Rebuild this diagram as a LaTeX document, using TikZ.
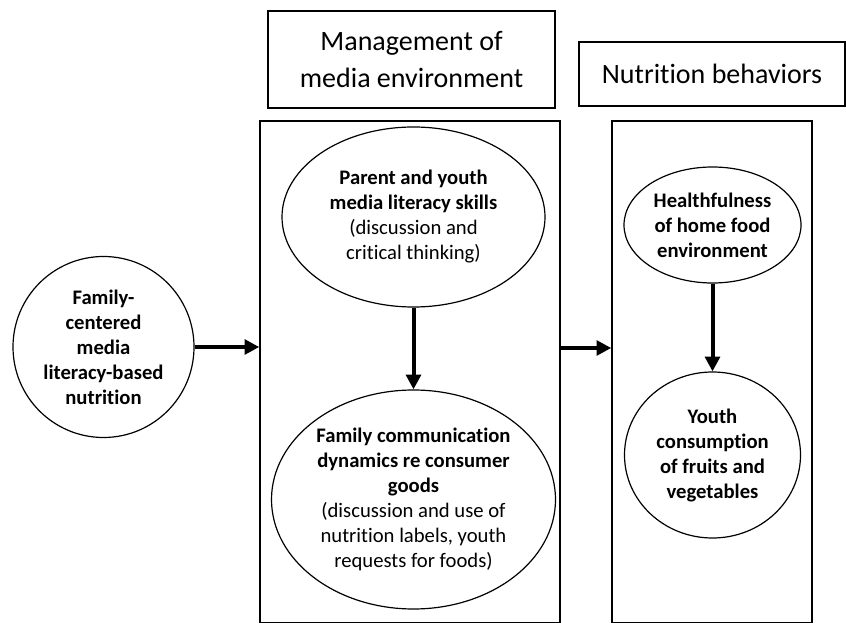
\documentclass[tikz,border=0pt]{standalone}
\usepackage{fontspec}
\setmainfont[Ligatures=NoCommon]{Carlito}
\usetikzlibrary{shapes.geometric,arrows.meta}
\tikzset{
  frame/.style={draw, line width=1.1pt, inner sep=0pt},
  headbox/.style={draw, line width=1.1pt, inner sep=0pt, align=center,
    font=\fontsize{21}{28}\selectfont},
  oval/.style={draw, ellipse, line width=0.9pt, inner sep=0pt, align=center,
    font=\fontsize{15.5}{18.75}\selectfont},
  flow/.style={line width=3pt, -{Triangle[length=11pt,width=11pt]}}
}
\begin{document}
\begin{tikzpicture}[x=0.75pt,y=-0.75pt]
\useasboundingbox (0,0) rectangle (846,623);
% header boxes
\node[headbox, minimum width=287*0.75pt, minimum height=97*0.75pt] (h1) at (411.5,59.5)
  {Management of\\media environment};
\node[headbox, minimum width=266*0.75pt, minimum height=64*0.75pt] (h2) at (712,74)
  {Nutrition behaviors};
% column frames
\node[frame, minimum width=300*0.75pt, minimum height=502*0.75pt] (box1) at (410,372) {};
\node[frame, minimum width=200*0.75pt, minimum height=502*0.75pt] (box2) at (712,372) {};
% left circle
\node[oval, circle, minimum size=181*0.75pt] (fam) at (103.5,347)
  {\bfseries Family-\\\bfseries centered\\\bfseries media\\\bfseries literacy-based\\\bfseries nutrition};
% middle column
\node[oval, minimum width=263*0.75pt, minimum height=180*0.75pt] (skills) at (413.5,217)
  {\bfseries Parent and youth\\\bfseries media literacy skills\\(discussion and\\critical thinking)};
\node[oval, minimum width=284*0.75pt, minimum height=219*0.75pt] (comm) at (413.5,499.5)
  {\bfseries Family communication\\\bfseries dynamics re consumer\\\bfseries goods\\(discussion and use of\\nutrition labels, youth\\requests for foods)};
% right column
\node[oval, minimum width=177*0.75pt, minimum height=116*0.75pt] (home) at (712.5,225)
  {\bfseries Healthfulness\\\bfseries of home food\\\bfseries environment};
\node[oval, minimum width=176*0.75pt, minimum height=166*0.75pt] (youth) at (712.5,455)
  {\bfseries Youth\\\bfseries consumption\\\bfseries of fruits and\\\bfseries vegetables};
% connectors
\coordinate (mid) at (586,348);
\draw[flow] (fam.east) -- (fam.east -| box1.west);
\draw[flow] (mid -| box1.east) -- (mid -| box2.west);
\draw[flow] (skills.south) -- (comm.north);
\draw[flow] (home.south) -- (youth.north);
\end{tikzpicture}
\end{document}
